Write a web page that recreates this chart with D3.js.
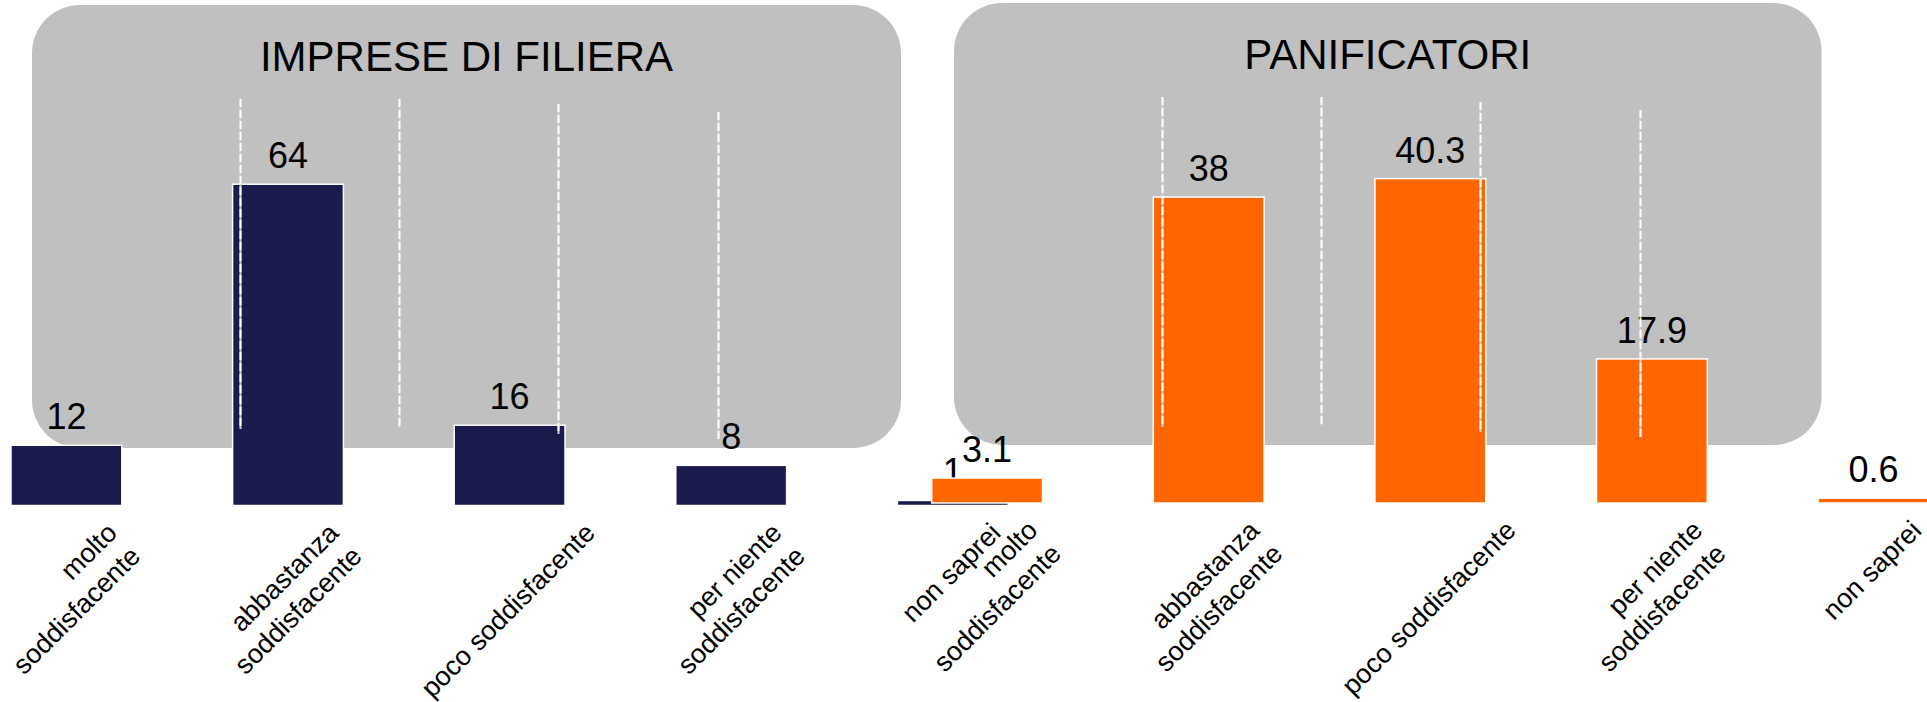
<!DOCTYPE html>
<html>
<head>
<meta charset="utf-8">
<script src="https://cdn.jsdelivr.net/npm/d3@7"></script>
<style>
  html, body { margin: 0; padding: 0; background: #ffffff; }
  svg { display: block; }
</style>
</head>
<body>
<svg id="chart" width="1927" height="702"></svg>
<script>
// ---- data ----
const categories = [
  "molto\nsoddisfacente",
  "abbastanza\nsoddisfacente",
  "poco soddisfacente",
  "per niente\nsoddisfacente",
  "non saprei"
];
const impreseValues = [12, 64, 16, 8, 1];
const panificatoriValues = [3.1, 38, 40.3, 17.9, 0.6];
const panelTitles = ["IMPRESE DI FILIERA", "PANIFICATORI"];
const yMaxImprese = 70;
const yMaxPanificatori = 45;

// ---- layout & style ----
const FONT = '"Liberation Sans", Arial, Helvetica, sans-serif';
const svg = d3.select("#chart");

const panels = [
  { title: panelTitles[0], x0: 32, x1: 901, y0: 5, y1: 448 },
  { title: panelTitles[1], x0: 954, x1: 1821.5, y0: 3, y1: 445 }
];
const panelRadius = 48;
const guideTop = [94, 94, 99, 107];      // offsets from panel top
const guideBottom = [424, 423, 429, 434]; // offsets from panel top

const charts = [
  {
    values: impreseValues,
    color: "#1b1a4d",
    x: d3.scaleBand().domain(categories).range([-44.4, 1063.6]).paddingInner(0.5).paddingOuter(0.25),
    y: d3.scaleLinear().domain([0, yMaxImprese]).range([505.5, 505.5 - 5.02 * yMaxImprese])
  },
  {
    values: panificatoriValues,
    color: "#ff6600",
    x: d3.scaleBand().domain(categories).range([876.3, 1984.3]).paddingInner(0.5).paddingOuter(0.25),
    y: d3.scaleLinear().domain([0, yMaxPanificatori]).range([503, 503 - 8.05 * yMaxPanificatori])
  }
];

// ---- grey title panels ----
const panelG = svg.append("g");
panels.forEach(p => {
  panelG.append("rect")
    .attr("x", p.x0).attr("y", p.y0)
    .attr("width", p.x1 - p.x0).attr("height", p.y1 - p.y0)
    .attr("rx", panelRadius).attr("ry", panelRadius)
    .attr("fill", "#c0c0c0");
  panelG.append("text")
    .attr("x", (p.x0 + p.x1) / 2).attr("y", p.y0 + 66)
    .attr("text-anchor", "middle")
    .attr("font-family", FONT).attr("font-size", 42)
    .attr("fill", "#000")
    .text(p.title);
});

// ---- bar charts ----
const LABEL_SIZE = 27;
const LINE_H = 33;
const fmt = d => String(d);

charts.forEach(ch => {
  const g = svg.append("g");
  const base = ch.y(0);
  const data = categories.map((c, i) => ({ c, v: ch.values[i] }));

  g.selectAll("rect.bar").data(data).join("rect")
    .attr("class", "bar")
    .attr("x", d => ch.x(d.c))
    .attr("y", d => ch.y(d.v))
    .attr("width", ch.x.bandwidth())
    .attr("height", d => base - ch.y(d.v))
    .attr("fill", ch.color)
    .attr("stroke", "#ffffff")
    .attr("stroke-width", 1.5);

  g.selectAll("text.val").data(data).join("text")
    .attr("class", "val")
    .attr("x", d => ch.x(d.c) + ch.x.bandwidth() / 2)
    .attr("y", d => ch.y(d.v) - 16)
    .attr("text-anchor", "middle")
    .attr("font-family", FONT).attr("font-size", 36)
    .attr("fill", "#000")
    .text(d => fmt(d.v));

  // category axis with rotated, right-aligned multi-line labels
  const axisG = g.append("g")
    .attr("transform", `translate(0,${base})`)
    .call(d3.axisBottom(ch.x).tickSize(0).tickFormat(() => ""));
  axisG.select(".domain").remove();
  axisG.selectAll(".tick").each(function (d) {
    const tick = d3.select(this);
    tick.select("text").remove();
    const lines = d.split("\n");
    const t = tick.append("text")
      .attr("text-anchor", "end")
      .attr("font-family", FONT)
      .attr("font-size", LABEL_SIZE)
      .attr("fill", "#000");
    lines.forEach((ln, j) => t.append("tspan").attr("x", 0).attr("y", j * LINE_H).text(ln));
    const W = d3.max(t.selectAll("tspan").nodes(), n => n.getComputedTextLength());
    const asc = 0.72 * LABEL_SIZE, desc = 0.21 * LABEL_SIZE;
    const cyLocal = ((lines.length - 1) * LINE_H + desc - asc) / 2;
    const px = Math.SQRT1_2 * (W / 2 - cyLocal);
    t.attr("transform", `translate(${px},29) rotate(-45)`);
  });
});

// ---- dashed guides over the panels ----
const guideG = svg.append("g");
panels.forEach(p => {
  const gx = d3.scaleLinear().domain([0, 3]).range([p.x0 + 207.5, p.x0 + 685.5]);
  d3.range(4).forEach(i => {
    const x = Math.round(gx(i)) + 0.5;
    guideG.append("line")
      .attr("x1", x).attr("x2", x)
      .attr("y1", p.y0 + guideTop[i]).attr("y2", p.y0 + guideBottom[i])
      .attr("stroke", "#c8d2d2").attr("stroke-width", 2);
    guideG.append("line")
      .attr("x1", x).attr("x2", x)
      .attr("y1", p.y0 + guideTop[i]).attr("y2", p.y0 + guideBottom[i])
      .attr("stroke", "#ffffff").attr("stroke-width", 2)
      .attr("stroke-dasharray", "8 3");
  });
});
</script>
</body>
</html>
